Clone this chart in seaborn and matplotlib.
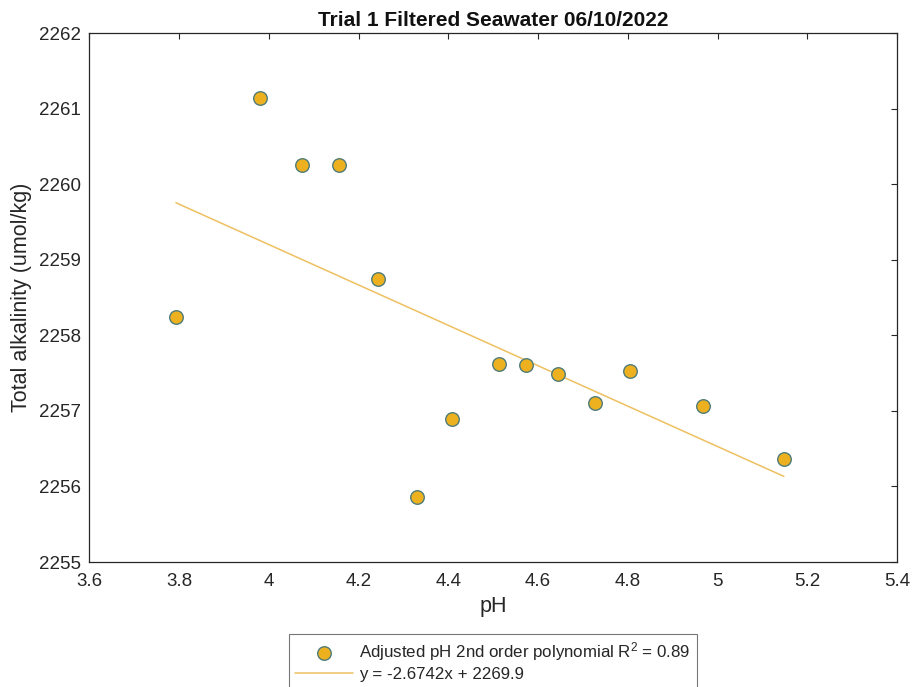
import matplotlib
matplotlib.use("Agg")
import matplotlib.pyplot as plt
import seaborn as sns
import numpy as np
import pandas as pd

# Data
ph = [3.793, 3.980, 4.073, 4.156, 4.243, 4.330, 4.408, 4.513, 4.574, 4.644, 4.726, 4.805, 4.967, 5.148]
alkalinity = [2258.24, 2261.14, 2260.25, 2260.26, 2258.75, 2255.86, 2256.89, 2257.62, 2257.61, 2257.49,
              2257.10, 2257.53, 2257.06, 2256.37]
fit_slope = -2.6742
fit_intercept = 2269.9
x_ticks = [3.6, 3.8, 4.0, 4.2, 4.4, 4.6, 4.8, 5.0, 5.2, 5.4]
x_ticklabels = ["3.6", "3.8", "4", "4.2", "4.4", "4.6", "4.8", "5", "5.2", "5.4"]
y_ticks = [2255, 2256, 2257, 2258, 2259, 2260, 2261, 2262]
title = "Trial 1 Filtered Seawater 06/10/2022"
scatter_label = "Adjusted pH 2nd order polynomial R$^2$ = 0.89"
line_label = "y = -2.6742x + 2269.9"

df = pd.DataFrame({"pH": ph, "TA": alkalinity})
fit_x = [min(ph), max(ph)]
fit_df = pd.DataFrame({"pH": fit_x, "TA": [fit_slope * v + fit_intercept for v in fit_x]})

sns.set_style("white")
plt.rcParams["font.family"] = ["Liberation Sans", "DejaVu Sans"]
plt.rcParams["mathtext.default"] = "regular"

fig = plt.figure(figsize=(9.17, 6.87), dpi=100)
ax = fig.add_axes([89.3 / 917, 1 - 562 / 687, (897 - 89.3) / 917, (562 - 33.3) / 687])

sns.lineplot(data=fit_df, x="pH", y="TA", ax=ax, color="#EDC060", linewidth=1.1,
             label=line_label, legend=False, zorder=2)
sns.scatterplot(data=df, x="pH", y="TA", ax=ax, color="#EDB120", edgecolor="#4F7C78",
                linewidth=1.0, s=95, label=scatter_label, legend=False, zorder=3)

ax.set_xlim(3.6, 5.4)
ax.set_ylim(2255, 2262)
ax.set_xticks(x_ticks)
ax.set_xticklabels(x_ticklabels)
ax.set_yticks(y_ticks)
ax.set_yticklabels([str(v) for v in y_ticks])

for s in ax.spines.values():
    s.set_color("#262626")
    s.set_linewidth(0.9)
    s.set_visible(True)

ax.tick_params(axis="both", which="both", direction="in", length=4, width=0.8,
               colors="#262626", labelsize=13.5, top=True, right=True)
ax.tick_params(axis="x", pad=8)
ax.tick_params(axis="y", pad=6)

ax.set_xlabel("pH", fontsize=15.5, color="#262626", labelpad=4)
ax.set_ylabel("Total alkalinity (umol/kg)", fontsize=15.5, color="#262626", labelpad=5)
ax.set_title(title, fontsize=15, fontweight="bold", color="#111111", pad=5)

handles, labels = ax.get_legend_handles_labels()
order = [labels.index(scatter_label), labels.index(line_label)]
leg = fig.legend([handles[i] for i in order], [labels[i] for i in order],
                 loc="upper left", bbox_to_anchor=(289 / 917, 1 - 634 / 687),
                 fontsize=12.2, frameon=True, fancybox=False, edgecolor="#555555",
                 handlelength=3.4, handletextpad=0.4, borderpad=0.35,
                 labelspacing=0.25, borderaxespad=0)
leg.get_frame().set_linewidth(0.8)

fig.savefig("out.png", dpi=100)
